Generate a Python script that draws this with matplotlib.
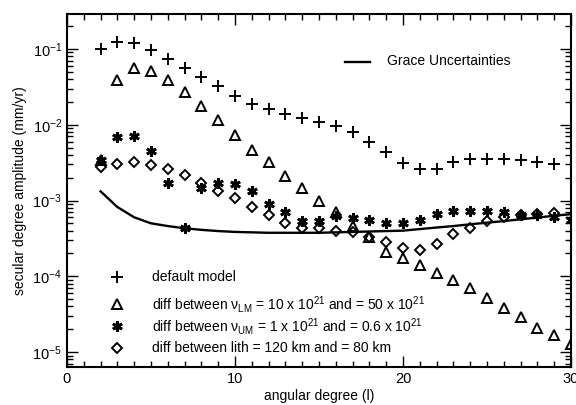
import numpy as np
import matplotlib
matplotlib.use("Agg")
import matplotlib.pyplot as plt
from matplotlib.ticker import LogLocator, MultipleLocator, NullFormatter, LogFormatterMathtext

plt.rcParams['font.family'] = ['Liberation Sans', 'DejaVu Sans']
plt.rcParams['mathtext.fontset'] = 'custom'
plt.rcParams['mathtext.rm'] = 'Liberation Sans'
plt.rcParams['mathtext.it'] = 'Liberation Sans:italic'
plt.rcParams['mathtext.bf'] = 'Liberation Sans:bold'

# ---- data ----
deg_default = list(range(2, 30))
default_model = [0.100, 0.124, 0.120, 0.097, 0.074, 0.056, 0.043, 0.032, 0.024, 0.0189,
                 0.0162, 0.0140, 0.0124, 0.0110, 0.0097, 0.0079, 0.0060, 0.0044, 0.0031, 0.0026,
                 0.0026, 0.0032, 0.0035, 0.0035, 0.0035, 0.0034, 0.0032, 0.0030]

deg_lm = list(range(2, 31))
diff_lm = [3.4e-3, 0.039, 0.056, 0.051, 0.039, 0.027, 0.0178, 0.0116, 0.0074, 0.0047,
           0.0032, 0.0021, 0.00148, 0.00100, 7.0e-4, 4.6e-4, 3.3e-4, 2.1e-4, 1.73e-4, 1.40e-4,
           1.10e-4, 8.9e-5, 6.9e-5, 5.1e-5, 3.8e-5, 2.9e-5, 2.1e-5, 1.67e-5, 1.26e-5]

deg_um = list(range(2, 31))
diff_um = [3.4e-3, 6.9e-3, 7.1e-3, 4.5e-3, 1.72e-3, 4.3e-4, 1.48e-3, 1.72e-3, 1.63e-3, 1.32e-3,
           8.9e-4, 7.0e-4, 5.3e-4, 5.3e-4, 6.2e-4, 5.8e-4, 5.5e-4, 5.1e-4, 5.1e-4, 5.6e-4,
           6.7e-4, 7.2e-4, 7.2e-4, 7.2e-4, 7.0e-4, 6.5e-4, 6.5e-4, 6.0e-4, 5.6e-4]

deg_lith = list(range(2, 30))
diff_lith = [2.8e-3, 3.07e-3, 3.2e-3, 2.9e-3, 2.57e-3, 2.14e-3, 1.72e-3, 1.32e-3, 1.07e-3, 8.1e-4,
             6.4e-4, 5.1e-4, 4.4e-4, 4.3e-4, 4.0e-4, 3.8e-4, 3.3e-4, 2.8e-4, 2.35e-4, 2.2e-4,
             2.7e-4, 3.6e-4, 4.4e-4, 5.3e-4, 6.0e-4, 6.5e-4, 6.7e-4, 6.9e-4]

deg_grace = list(range(2, 31))
grace = [1.32e-3, 8.2e-4, 6.0e-4, 5.0e-4, 4.6e-4, 4.3e-4, 4.1e-4, 3.95e-4, 3.85e-4, 3.8e-4,
         3.75e-4, 3.75e-4, 3.75e-4, 3.75e-4, 3.8e-4, 3.85e-4, 3.9e-4, 3.95e-4, 4.0e-4, 4.2e-4,
         4.4e-4, 4.6e-4, 4.85e-4, 5.1e-4, 5.35e-4, 5.65e-4, 5.95e-4, 6.3e-4, 6.6e-4]

labels = ["default model",
          "diff between \u03bd$_{\\rm LM}$ = 10 x 10$^{21}$ and = 50 x 10$^{21}$",
          "diff between \u03bd$_{\\rm UM}$ = 1 x 10$^{21}$ and = 0.6 x 10$^{21}$",
          "diff between lith = 120 km and = 80 km"]
grace_label = "Grace Uncertainties"
xlabel = "angular degree (l)"
ylabel = "secular degree amplitude (mm/yr)"

# ---- figure ----
fig = plt.figure(figsize=(5.76, 4.05), dpi=100)
ax = fig.add_axes([0.1163, 0.0938, 0.8750, 0.8716])

star = (6, 2, 0)
styles = [
    dict(marker='+', ms=8, mew=1.4, mfc='none', mec='black'),
    dict(marker='^', ms=7.5, mew=1.4, mfc='none', mec='black'),
    dict(marker=star, ms=7.5, mew=2.0, mfc='none', mec='black'),
    dict(marker='D', ms=5, mew=1.4, mfc='none', mec='black'),
]
series = [(deg_default, default_model), (deg_lm, diff_lm), (deg_um, diff_um), (deg_lith, diff_lith)]
for (x, y), st in zip(series, styles):
    ax.plot(x, y, ls='none', **st)

ax.plot(deg_grace, grace, color='black', lw=1.7)

ax.set_yscale('log')
ax.set_xlim(0, 30)
ax.set_ylim(6.35e-6, 0.289)

ax.xaxis.set_major_locator(MultipleLocator(10))
ax.xaxis.set_minor_locator(MultipleLocator(1))
ax.yaxis.set_major_locator(LogLocator(base=10, numticks=20))
ax.yaxis.set_minor_locator(LogLocator(base=10, subs=np.arange(2, 10), numticks=20))
ax.yaxis.set_major_formatter(LogFormatterMathtext())
ax.yaxis.set_minor_formatter(NullFormatter())
ax.tick_params(which='both', direction='in', top=True, right=True, width=1.0, labelsize=10.5)
ax.tick_params(which='major', length=8)
ax.tick_params(which='minor', length=4)
for s in ax.spines.values():
    s.set_linewidth(1.5)

ax.set_xlabel(xlabel, fontsize=10, labelpad=2)
ax.set_ylabel(ylabel, fontsize=10, labelpad=4)

# legend keys (bottom-left)
leg_rows = [0.254, 0.178, 0.116, 0.054]
for st, lab, yy in zip(styles, labels, leg_rows):
    ax.plot([0.099], [yy], transform=ax.transAxes, ls='none', clip_on=False, **st)
    ax.text(0.169, yy, lab, transform=ax.transAxes, fontsize=10, va='center', ha='left')

# Grace legend (top-right)
ax.plot([0.552, 0.601], [0.864, 0.864], transform=ax.transAxes, color='black', lw=1.7)
ax.text(0.635, 0.868, grace_label, transform=ax.transAxes, fontsize=10, va='center', ha='left')

fig.savefig("out.png", dpi=100)
